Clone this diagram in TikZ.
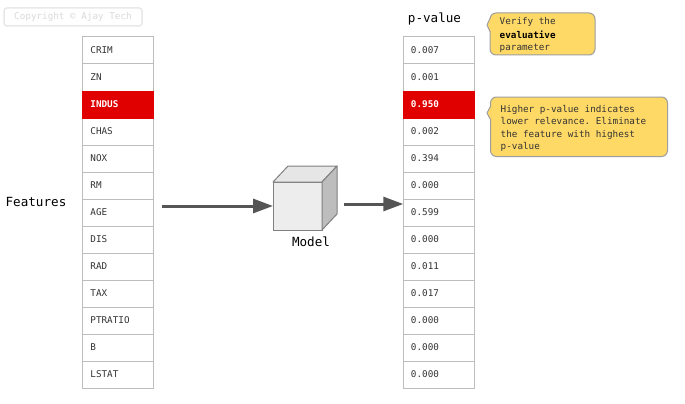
\documentclass[tikz,border=0pt]{standalone}
\usepackage{fontspec}
\setmonofont{DejaVu Sans Mono}
\usetikzlibrary{arrows.meta}
\definecolor{redc}{HTML}{E00000}
\definecolor{gridc}{HTML}{BDBDBD}
\definecolor{txtc}{HTML}{333333}
\definecolor{arrc}{HTML}{555555}
\definecolor{cubeline}{HTML}{808080}
\definecolor{cubefront}{HTML}{EDEDED}
\definecolor{cubetop}{HTML}{E6E6E6}
\definecolor{cubeside}{HTML}{BDBDBD}
\definecolor{callfill}{HTML}{FFD966}
\definecolor{callline}{HTML}{9E9E9E}
\definecolor{copyc}{HTML}{DADADA}
\definecolor{copyline}{HTML}{E8E8E8}
\begin{document}
\begin{tikzpicture}[x=1pt,y=-1pt,
  cell/.style={draw=gridc, line width=1pt, minimum width=71pt, minimum height=27pt, inner sep=0pt, outer sep=0pt},
  redcell/.style={cell, fill=redc, draw=redc},
  small/.style={font=\ttfamily\fontsize{9.3}{11}\selectfont, text=txtc, inner sep=0pt},
  big/.style={font=\ttfamily\fontsize{12.6}{15}\selectfont, text=black, inner sep=0pt},
  arr/.style={draw=arrc, line width=3pt, -{Triangle[length=20pt,width=14pt]}},
  callout/.style={fill=callfill, draw=callline, line width=1pt, rounded corners=6pt},
  calltxt/.style={font=\ttfamily\fontsize{9.3}{11}\selectfont, text=black!80, inner sep=0pt, anchor=base west}]
\useasboundingbox (0,0) rectangle (685,404);
\fill[white] (0,0) rectangle (685,404);

% copyright
\node[draw=copyline, line width=1.5pt, rounded corners=3pt, minimum width=138pt, minimum height=18pt, inner sep=0pt,
      font=\ttfamily\fontsize{9.3}{11}\selectfont, text=copyc] (copy) at (73,17) {Copyright © Ajay Tech};

% feature table
\foreach \lab [count=\i] in {CRIM,ZN,INDUS,CHAS,NOX,RM,AGE,DIS,RAD,TAX,PTRATIO,B,LSTAT}{
  \pgfmathsetmacro\yy{37+27*(\i-1)+13.5}
  \node[cell] (f\i) at (117.75,\yy) {};
  \node[small, anchor=west] (ft\i) at ([xshift=8pt]f\i.west) {\lab};
}
\node[redcell] (fred) at (f3) {};
\node[small, anchor=west, text=white, font=\ttfamily\bfseries\fontsize{9.3}{11}\selectfont] (fredt) at ([xshift=8pt]fred.west) {INDUS};

% p-value table
\foreach \lab [count=\i] in {0.007,0.001,0.950,0.002,0.394,0.000,0.599,0.000,0.011,0.017,0.000,0.000,0.000}{
  \pgfmathsetmacro\yy{37+27*(\i-1)+13.5}
  \node[cell] (p\i) at (438.75,\yy) {};
  \node[small, anchor=west] (pt\i) at ([xshift=7.5pt]p\i.west) {\lab};
}
\node[redcell] (pred) at (p3) {};
\node[small, anchor=west, text=white, font=\ttfamily\bfseries\fontsize{9.3}{11}\selectfont] (predt) at ([xshift=7.5pt]pred.west) {0.950};

% labels
\node[big] (features) at (36,202) {Features};
\node[big] (pval) at (434.5,19) {p-value};

% cube
\node[draw=cubeline, fill=cubefront, line width=1pt, minimum width=49pt, minimum height=48pt, inner sep=0pt, outer sep=0pt] (cube) at (297.5,206) {};
\filldraw[fill=cubetop, draw=cubeline, line width=1pt, line join=round] (cube.north west) -- ++(15,-16) -- ++(49,0) -- (cube.north east) -- cycle;
\filldraw[fill=cubeside, draw=cubeline, line width=1pt, line join=round] (cube.north east) -- ++(15,-16) -- ++(0,48) -- (cube.south east) -- cycle;
\node[big] (model) at (311,242) {Model};

% arrows
\coordinate (a1s) at (162,206);
\draw[arr] (a1s) -- (cube.west);
\coordinate (a2s) at (344,204);
\draw[arr] (a2s) -- (a2s -| p7.west);

% callout 1
\draw[callout] (490,13) rectangle (595,55);
\fill[callfill] (491,19) -- (489.4,19) -- (487,25) -- (489.4,31) -- (491,31) -- cycle;
\draw[callline, line width=1pt, line join=round] (490,18.5) -- (487,25) -- (490,31.5);
\node[calltxt] (c1a) at (499.5,25) {Verify the};
\node[calltxt, font=\ttfamily\bfseries\fontsize{9.3}{11}\selectfont, text=black] (c1b) at (499.5,38) {evaluative};
\node[calltxt] (c1c) at (499.5,50.8) {parameter};

% callout 2
\draw[callout] (490.5,97) rectangle (667.5,156.5);
\fill[callfill] (491.5,107) -- (489.9,107) -- (487,113) -- (489.9,119) -- (491.5,119) -- cycle;
\draw[callline, line width=1pt, line join=round] (490.5,106.5) -- (487,113) -- (490.5,119.5);
\node[calltxt] (c2a) at (500.5,112.5) {Higher p-value indicates};
\node[calltxt] (c2b) at (500.5,124.8) {lower relevance. Eliminate};
\node[calltxt] (c2c) at (500.5,137.1) {the feature with highest};
\node[calltxt] (c2d) at (500.5,149.4) {p-value};
\end{tikzpicture}
\end{document}
